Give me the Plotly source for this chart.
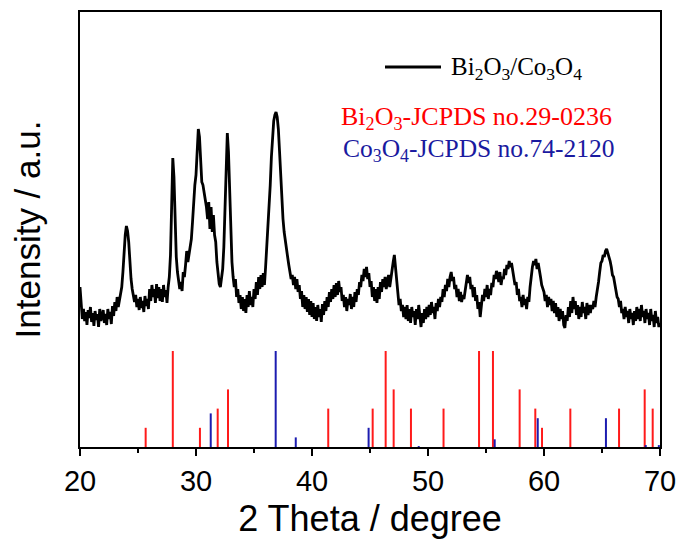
import numpy as np
import plotly.graph_objects as go

# --- XRD pattern of Bi2O3/Co3O4 (2θ from 20.0 to 70.0, step 0.1) ---
intensity = [
    160, 140, 128, 138, 126, 135, 122, 137, 129, 140,   # 20
    125, 134, 121, 136, 127, 133, 120, 138, 126, 131,   # 21
    137, 124, 133, 122, 138, 128, 135, 123, 141, 131,   # 22
    145, 136, 150, 140, 147, 152, 160, 175, 195, 212,   # 23
    221, 216, 205, 185, 168, 158, 150, 145, 152, 140,   # 24
    148, 137, 150, 139, 146, 135, 151, 141, 148, 138,   # 25
    158, 146, 162, 150, 158, 144, 163, 149, 160, 146,   # 26
    158, 145, 162, 150, 157, 144, 160, 170, 192, 230,   # 27
    289, 270, 215, 190, 175, 168, 158, 165, 156, 175,   # 28
    170, 182, 196, 185, 192, 200, 208, 225, 245, 262,   # 29
    272, 295, 318, 310, 288, 265, 262, 255, 250, 240,   # 30
    228, 245, 218, 240, 215, 232, 212, 205, 185, 170,   # 31
    163, 160, 170, 178, 200, 240, 290, 314, 295, 250,   # 32
    222, 185, 170, 160, 168, 150, 158, 144, 152, 138,   # 33
    150, 136, 148, 134, 152, 140, 156, 142, 150, 140,   # 34
    158, 148, 165, 152, 170, 158, 172, 160, 174, 162,   # 35
    180, 198, 215, 238, 262, 290, 314, 326, 332, 335,   # 36
    330, 318, 296, 270, 248, 228, 215, 205, 198, 190,   # 37
    182, 175, 168, 172, 162, 170, 158, 168, 155, 162,   # 38
    148, 156, 140, 152, 138, 150, 135, 148, 132, 146,   # 39
    130, 144, 128, 140, 126, 142, 130, 138, 125, 143,   # 40
    132, 146, 136, 150, 140, 155, 145, 158, 148, 162,   # 41
    150, 164, 152, 166, 155, 160, 146, 152, 140, 150,   # 42
    136, 148, 142, 153, 138, 150, 140, 155, 145, 158,   # 43
    152, 165, 160, 172, 166, 178, 170, 180, 168, 174,   # 44
    160, 166, 150, 160, 146, 158, 144, 160, 148, 165,   # 45
    155, 168, 160, 170, 158, 166, 172, 160, 170, 176,   # 46
    185, 192, 180, 162, 150, 142, 148, 136, 142, 130,   # 47
    140, 128, 142, 126, 138, 124, 140, 130, 136, 122,   # 48
    138, 128, 142, 126, 120, 134, 124, 138, 128, 140,   # 49
    130, 142, 132, 145, 134, 140, 128, 144, 136, 148,   # 50
    140, 150, 145, 158, 150, 162, 156, 168, 160, 170,   # 51
    175, 166, 170, 158, 162, 150, 158, 146, 155, 145,   # 52
    152, 148, 158, 166, 172, 164, 170, 158, 162, 150,   # 53
    160, 146, 152, 138, 145, 130, 140, 152, 146, 158,   # 54
    150, 162, 148, 158, 152, 164, 160, 172, 168, 176,   # 55
    172, 165, 175, 162, 170, 168, 178, 172, 182, 178,   # 56
    186, 180, 184, 176, 170, 162, 165, 152, 158, 146,   # 57
    150, 140, 152, 142, 148, 138, 150, 145, 160, 172,   # 58
    180, 186, 182, 188, 178, 184, 174, 170, 162, 158,   # 59
    155, 146, 152, 140, 150, 142, 148, 136, 146, 134,   # 60
    144, 130, 140, 126, 138, 128, 136, 122, 119, 132,   # 61
    126, 140, 130, 146, 134, 150, 138, 146, 132, 142,   # 62
    128, 140, 130, 145, 134, 140, 128, 144, 132, 142,   # 63
    134, 142, 138, 146, 140, 150, 156, 165, 175, 184,   # 64
    186, 192, 190, 196, 198, 194, 192, 186, 180, 172,   # 65
    170, 162, 158, 150, 148, 140, 146, 134, 138, 128,   # 66
    140, 130, 136, 124, 138, 128, 134, 122, 136, 126,   # 67
    140, 128, 138, 126, 142, 130, 136, 124, 138, 128,   # 68
    134, 122, 138, 126, 132, 120, 136, 124, 130, 120,   # 69
    124,                                                # 70
]
two_theta = np.round(20.0 + 0.1 * np.arange(len(intensity)), 1)

# --- Reference patterns (relative intensity, %) ---
bi2o3_pos = [25.66, 28.0, 30.34, 31.87, 32.76, 41.4, 45.23, 46.35, 47.04, 48.53,
             51.34, 54.4, 55.6, 57.9, 59.25, 59.83, 62.27, 66.47, 68.68, 69.37]
bi2o3_int = [20, 100, 20, 40, 60, 40, 40, 100, 60, 40,
             40, 100, 100, 60, 40, 20, 40, 40, 60, 40]
co3o4_pos = [31.27, 36.87, 38.6, 44.88, 49.2, 55.75, 59.46, 65.34, 68.77, 69.9]
co3o4_int = [35, 100, 10, 20, 1, 8, 30, 30, 2, 2]

STICK_SCALE = 0.96  # stick height in intensity units per %

def sticks(pos, inten):
    xs, ys = [], []
    for p, i in zip(pos, inten):
        xs += [p, p, None]
        ys += [0, i * STICK_SCALE, None]
    return xs, ys

RED = "#ff1a1a"
BLUE = "#1c1cb0"

fig = go.Figure()
bx, by = sticks(bi2o3_pos, bi2o3_int)
cx, cy = sticks(co3o4_pos, co3o4_int)
fig.add_trace(go.Scatter(x=bx, y=by, mode="lines", line=dict(color=RED, width=2),
                         showlegend=False, hoverinfo="skip"))
fig.add_trace(go.Scatter(x=cx, y=cy, mode="lines", line=dict(color=BLUE, width=2),
                         showlegend=False, hoverinfo="skip"))
fig.add_trace(go.Scatter(x=two_theta, y=intensity, mode="lines",
                         line=dict(color="black", width=2.8), name="Bi2O3/Co3O4",
                         showlegend=False))

# manual legend
fig.add_shape(type="line", xref="paper", yref="paper",
              x0=(385 - 80) / 580, x1=(441 - 80) / 580,
              y0=(447 - 67) / 435, y1=(447 - 67) / 435,
              line=dict(color="black", width=2.8))
serif = "Liberation Serif, Times New Roman, serif"
fig.add_annotation(xref="paper", yref="paper", x=(449 - 80) / 580, y=(447 - 68) / 435,
                   xanchor="left", yanchor="middle", showarrow=False,
                   text="Bi<sub>2</sub>O<sub>3</sub>/Co<sub>3</sub>O<sub>4</sub>",
                   font=dict(family=serif, size=25, color="black"))
fig.add_annotation(xref="paper", yref="paper", x=(476 - 80) / 580, y=(447 - 118) / 435,
                   xanchor="center", yanchor="middle", showarrow=False,
                   text="Bi<sub>2</sub>O<sub>3</sub>-JCPDS no.29-0236",
                   font=dict(family=serif, size=26, color="#ff0000"))
fig.add_annotation(xref="paper", yref="paper", x=(478 - 80) / 580, y=(447 - 150) / 435,
                   xanchor="center", yanchor="middle", showarrow=False,
                   text="Co<sub>3</sub>O<sub>4</sub>-JCPDS no.74-2120",
                   font=dict(family=serif, size=25.5, color="#1a1aa0"))

sans = "Liberation Sans, Arial, sans-serif"
fig.update_layout(
    width=681, height=542,
    margin=dict(l=80, r=21, t=12, b=95, autoexpand=False),
    plot_bgcolor="white", paper_bgcolor="white",
    xaxis=dict(range=[20, 70], tickmode="array", tickvals=[20, 30, 40, 50, 60, 70],
               ticks="outside", ticklen=7, tickwidth=2, tickcolor="black",
               minor=dict(tickvals=[25, 35, 45, 55, 65], ticks="outside", ticklen=4,
                          tickwidth=2, tickcolor="black"),
               showline=True, linewidth=2, linecolor="black", mirror=True,
               showgrid=False, zeroline=False, automargin=False,
               tickfont=dict(family=sans, size=29, color="black"),
               title=dict(text="2 Theta / degree", standoff=10,
                          font=dict(family=sans, size=36, color="black"))),
    yaxis=dict(range=[0, 435], showticklabels=False, ticks="",
               showline=True, linewidth=2, linecolor="black", mirror=True,
               showgrid=False, zeroline=False, automargin=False,
               title=dict(text="Intensity / a.u.", standoff=27,
                          font=dict(family=sans, size=35, color="black"))),
)

fig.write_html("out.html", config={"displayModeBar": False},
               post_script="document.body.style.margin='0';")
